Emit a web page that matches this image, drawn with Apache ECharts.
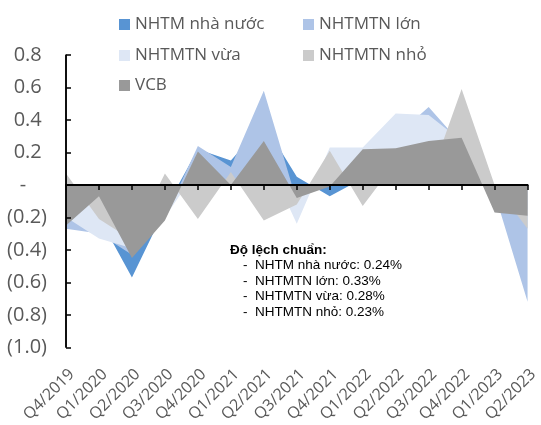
<!DOCTYPE html>
<html>
<head>
<meta charset="utf-8">
<script src="https://cdn.jsdelivr.net/npm/echarts@6/dist/echarts.min.js"></script>
<style>
  html, body { margin: 0; padding: 0; background: #fff; }
  #chart { width: 541px; height: 425px; }
</style>
</head>
<body>
<div id="chart"></div>
<script>
// quý
const categories = ['Q4/2019', 'Q1/2020', 'Q2/2020', 'Q3/2020', 'Q4/2020', 'Q1/2021', 'Q2/2021', 'Q3/2021',
  'Q4/2021', 'Q1/2022', 'Q2/2022', 'Q3/2022', 'Q4/2022', 'Q1/2023', 'Q2/2023']

// giá trị
const nhaNuoc = [-0.24, -0.20, -0.57, -0.15, 0.22, 0.15, 0.38, 0.05, -0.07, 0.04, 0.15, 0.25, 0.20, -0.10, -0.15]
const lon = [-0.27, -0.30, -0.43, -0.20, 0.24, 0.11, 0.58, -0.10, 0.10, 0.20, 0.30, 0.48, 0.25, -0.05, -0.72]
const vua = [-0.20, -0.33, -0.39, -0.20, 0.10, 0.00, 0.20, -0.24, 0.23, 0.23, 0.44, 0.43, 0.27, -0.10, -0.18]
const nho = [0.07, -0.21, -0.34, 0.07, -0.21, 0.08, -0.22, -0.12, 0.21, -0.13, 0.14, 0.02, 0.59, 0.00, -0.27]
const vcb = [-0.25, -0.07, -0.45, -0.22, 0.205, 0.00, 0.27, -0.08, -0.01, 0.22, 0.225, 0.27, 0.29, -0.17, -0.19]

const seriesNames = ['NHTM nhà nước', 'NHTMTN lớn', 'NHTMTN vừa', 'NHTMTN nhỏ', 'VCB']
const seriesData = [nhaNuoc, lon, vua, nho, vcb]
const colors = ['#5894D3', '#AEC4E7', '#DEE7F5', '#CBCBCB', '#999999']

const noteTitle = 'Độ lệch chuẩn:'
const noteLines = ['NHTM nhà nước: 0.24%', 'NHTMTN lớn: 0.33%', 'NHTMTN vừa: 0.28%', 'NHTMTN nhỏ: 0.23%']

const FONT = '"Open Sans", "Noto Sans", sans-serif'
const GRAY = '#595959'

const chart = echarts.init(document.getElementById('chart'))

// chú thích: 2 cột như Excel
const legendPos = [[114, 11], [298, 11], [114, 42], [298, 42], [114, 72]]
const legends = seriesNames.map((name, i) => ({
  data: [name],
  left: legendPos[i][0],
  top: legendPos[i][1],
  icon: 'rect',
  itemWidth: 11,
  itemHeight: 11,
  selectedMode: false,
  textStyle: { color: GRAY, fontSize: 17, fontFamily: FONT }
}))

// định dạng kiểu kế toán: 0.8 / - / (0.2)
function yLabel(v) {
  const r = Math.round(v * 10) / 10
  if (r === 0) return '-    '
  if (r > 0) return r.toFixed(1) + ' '
  return '(' + Math.abs(r).toFixed(1) + ')'
}

const option = {
  animation: false,
  legend: legends,
  grid: { left: 66, right: 4, top: 55, bottom: 77 },
  xAxis: [
    {
      type: 'category',
      data: categories,
      boundaryGap: false,
      axisLine: { show: false, onZero: false },
      axisTick: { show: false },
      axisLabel: {
        rotate: 45,
        interval: 0,
        margin: 19,
        verticalAlign: 'top',
        color: GRAY,
        fontSize: 16,
        fontFamily: FONT
      }
    },
    {
      // đường 0 có vạch chia
      type: 'category',
      data: categories,
      boundaryGap: false,
      position: 'bottom',
      z: 20,
      axisLine: { show: true, onZero: true, lineStyle: { color: '#000', width: 2 } },
      axisTick: { show: true, interval: 0, length: 5, lineStyle: { color: '#000', width: 1.5 } },
      axisLabel: { show: false }
    }
  ],
  yAxis: {
    type: 'value',
    min: -1,
    max: 0.8,
    interval: 0.2,
    z: 20,
    axisLine: { show: true, onZero: false, lineStyle: { color: '#000', width: 1.5 } },
    axisTick: { show: true, inside: true, length: 5, lineStyle: { color: '#000', width: 1.5 } },
    splitLine: { show: false },
    axisLabel: {
      margin: 19,
      color: GRAY,
      fontSize: 20,
      fontFamily: FONT,
      formatter: yLabel
    }
  },
  series: seriesNames.map((name, i) => {
    const s = {
      name: name,
      type: 'line',
      xAxisIndex: 0,
      data: seriesData[i],
      showSymbol: false,
      symbol: 'none',
      lineStyle: { width: 0 },
      itemStyle: { color: colors[i] },
      areaStyle: { color: colors[i], opacity: 1, origin: 0 },
      z: 2 + i
    }
    if (i === seriesNames.length - 1) {
      // đường 0 và trục dọc vẽ lại phía trên vùng màu
      s.markLine = {
        silent: true,
        symbol: 'none',
        z: 30,
        label: { show: false },
        lineStyle: { color: '#000', width: 1.5, type: 'solid' },
        data: [{ yAxis: 0 }, { xAxis: categories[0] }]
      }
    }
    return s
  }),
  graphic: [
    {
      type: 'text',
      x: 230,
      y: 250,
      z: 100,
      style: { text: noteTitle, font: 'bold 13.5px "Liberation Sans", Arial, sans-serif', fill: '#000', verticalAlign: 'middle' }
    }
  ].concat(noteLines.map((t, i) => ({
    type: 'text',
    x: 243,
    y: 265.5 + i * 15.5,
    z: 100,
    style: { text: '-  ' + t, font: '13.5px "Liberation Sans", Arial, sans-serif', fill: '#000', verticalAlign: 'middle' }
  })))
}

chart.setOption(option)
</script>
</body>
</html>
